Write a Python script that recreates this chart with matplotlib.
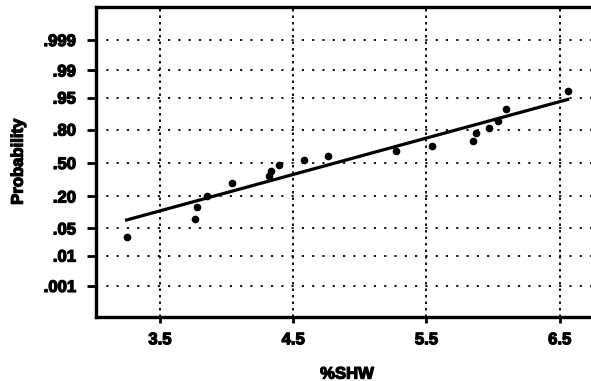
import numpy as np
import matplotlib.pyplot as plt
import matplotlib.patheffects as pe
from statistics import NormalDist

# %SHW values and their plotting probabilities
shw = [3.25, 3.76, 3.78, 3.85, 4.04, 4.32, 4.33, 4.39, 4.58, 4.76,
       5.27, 5.54, 5.85, 5.87, 5.97, 6.04, 6.10, 6.56]
prob = [0.031, 0.080, 0.132, 0.200, 0.310, 0.372, 0.420, 0.480, 0.527, 0.570,
        0.620, 0.668, 0.710, 0.772, 0.808, 0.856, 0.914, 0.965]

# fitted normal distribution
fit_mean = 4.815
fit_sd = 1.093

xticks = [3.5, 4.5, 5.5, 6.5]
xticklabels = ["3.5", "4.5", "5.5", "6.5"]
yticks = [0.999, 0.99, 0.95, 0.80, 0.50, 0.20, 0.05, 0.01, 0.001]
yticklabels = [".999", ".99", ".95", ".80", ".50", ".20", ".05", ".01", ".001"]

nd = NormalDist()
_ppf = np.vectorize(lambda p: nd.inv_cdf(float(np.clip(p, 1e-12, 1 - 1e-12))),
                    otypes=[float])
_cdf = np.vectorize(lambda z: nd.cdf(float(z)), otypes=[float])

def forward(p):
    return _ppf(np.asarray(p, dtype=float))

def inverse(z):
    return _cdf(np.asarray(z, dtype=float))

plt.rcParams['font.family'] = ['Liberation Sans', 'DejaVu Sans']
plt.rcParams['font.weight'] = 'bold'

heavy = [pe.withStroke(linewidth=0.9, foreground='black')]

fig = plt.figure(figsize=(5.91, 3.81), dpi=100)
ax = fig.add_axes([0.1624, 0.168, 0.8376, 0.8136])

ax.set_yscale('function', functions=(forward, inverse))

# fitted line over the data range
xl = np.array([min(shw), max(shw)])
pl = [nd.cdf((v - fit_mean) / fit_sd) for v in xl]
ax.plot(xl, pl, color='black', lw=2.3, zorder=3)

ax.plot(shw, prob, 'o', color='black', ms=4.5, zorder=4)

# dotted grid
for t in yticks:
    ax.axhline(t, color='black', lw=1.3, ls=(0, (1.2, 4.5)), zorder=1)
for t in xticks:
    ax.axvline(t, color='black', lw=1.3, ls=(0, (1.4, 2.2)), zorder=1)

ax.set_xlim(3.02, 6.735)
ax.set_ylim(nd.cdf(-3.87), nd.cdf(3.92))

ax.set_xticks(xticks)
ax.set_xticklabels(xticklabels, fontsize=12, fontweight='bold')
ax.set_yticks(yticks)
ax.set_yticklabels(yticklabels, fontsize=12, fontweight='bold')
ax.minorticks_off()
ax.tick_params(axis='y', direction='out', length=6.5, width=2, pad=8)
ax.tick_params(axis='x', direction='out', length=4, width=2, pad=7)
for lab in ax.get_xticklabels() + ax.get_yticklabels():
    lab.set_path_effects(heavy)

for side in ['left', 'top', 'bottom']:
    ax.spines[side].set_linewidth(2.4)
ax.spines['right'].set_visible(False)

ax.set_xlabel('%SHW', fontsize=12, fontweight='bold', path_effects=heavy)
ax.set_ylabel('Probability', fontsize=12, fontweight='bold', path_effects=heavy)
ax.xaxis.set_label_coords(0.507, -0.16)
ax.yaxis.set_label_coords(-0.142, 0.5)

fig.savefig('out.png', dpi=100)
